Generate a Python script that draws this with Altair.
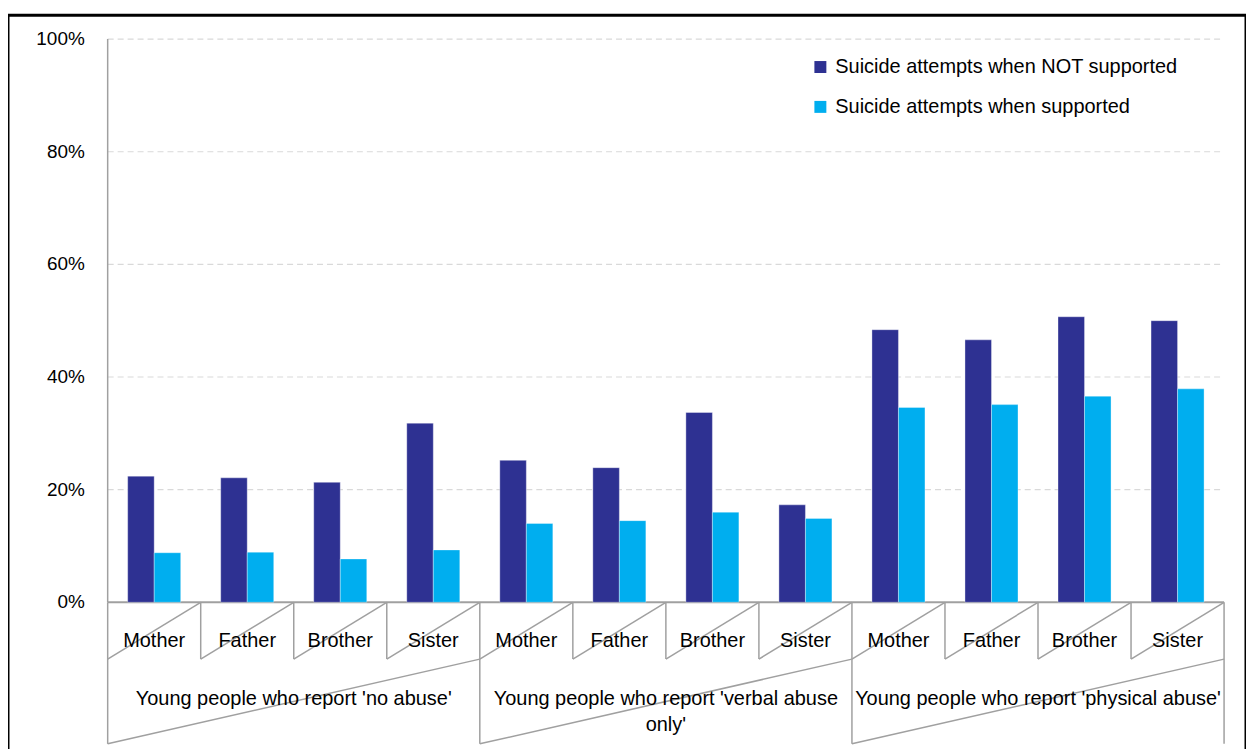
import altair as alt
import pandas as pd

# ---- data ----
relations = ["Mother", "Father", "Brother", "Sister"]
groups = ["Young people who report 'no abuse'",
          "Young people who report 'verbal abuse\nonly'",
          "Young people who report 'physical abuse'"]
series = ["Suicide attempts when NOT supported", "Suicide attempts when supported"]
not_supported = [0.224, 0.221, 0.213, 0.318, 0.252, 0.239, 0.337, 0.173, 0.484, 0.466, 0.507, 0.500]
supported = [0.088, 0.089, 0.077, 0.093, 0.140, 0.145, 0.160, 0.149, 0.346, 0.351, 0.366, 0.379]
y_ticks = [0.0, 0.2, 0.4, 0.6, 0.8, 1.0]
colors = ["#2E3192", "#00AEEF"]

# ---- layout (pixels) ----
W, H = 1242, 745          # chart area = framed region
LEFT, RIGHT = 100, 1220   # plot x-extent inside frame
TOP100, ZERO = 24, 589    # y pixel of 100% and 0%
n_cat = len(relations) * len(groups)
unit = (RIGHT - LEFT) / n_cat
yunit = ZERO - TOP100
x_dom = [-LEFT / unit, n_cat + (W - RIGHT) / unit]
y_dom = [-(H - ZERO) / yunit, 1 + TOP100 / yunit]

def ypx(page_y):
    return (603 - page_y) / yunit

CAT_LABEL_Y = ypx(642)
CAT_BOTTOM = ypx(660)
GROUP_LABEL_Y = ypx(690)
GROUP_BOTTOM = ypx(745)
BAR_W = 0.285

xs = alt.Scale(domain=x_dom, nice=False, zero=False)
ys = alt.Scale(domain=y_dom, nice=False, zero=False)
FONT = "Liberation Sans"
GREY = "#A0A0A0"

# ---- tables ----
rows = []
for i in range(n_cat):
    for s, vals, off in [(series[0], not_supported, -BAR_W), (series[1], supported, 0.0)]:
        x0 = i + 0.5 + off
        rows.append({"series": s, "value": vals[i], "x0": x0, "x1": x0 + BAR_W, "zero": 0.0})
bars_df = pd.DataFrame(rows)

cat_df = pd.DataFrame({"label": [relations[i % 4] for i in range(n_cat)],
                       "xc": [i + 0.5 for i in range(n_cat)],
                       "y": [CAT_LABEL_Y] * n_cat})
grp_df = pd.DataFrame({"label": groups,
                       "xc": [4 * g + 2 for g in range(len(groups))],
                       "y": [GROUP_LABEL_Y] * len(groups)})

lines = []
for j in range(n_cat + 1):
    yb = GROUP_BOTTOM if j % 4 == 0 else CAT_BOTTOM
    lines.append({"x": j, "x2": j, "y": 0.0, "y2": yb})
for i in range(n_cat):
    lines.append({"x": i + 1, "x2": i, "y": 0.0, "y2": CAT_BOTTOM})
for g in range(len(groups)):
    lines.append({"x": 4 * g + 4, "x2": 4 * g, "y": CAT_BOTTOM, "y2": GROUP_BOTTOM})
lines_df = pd.DataFrame(lines)

grid_df = pd.DataFrame({"y": y_ticks[1:], "x": [0] * 5, "x2": [n_cat] * 5})
tick_df = pd.DataFrame({"y": y_ticks, "x": [0] * len(y_ticks),
                        "label": [f"{int(round(v * 100))}%" for v in y_ticks]})
base_df = pd.DataFrame({"x": [0], "x2": [n_cat], "y": [0.0]})
yaxis_df = pd.DataFrame({"x": [0], "y": [0.0], "y2": [1.0]})

# ---- layers ----
grid = alt.Chart(grid_df).mark_rule(color="#D9D9D9", strokeDash=[6, 4], strokeWidth=1.2).encode(
    x=alt.X("x:Q", scale=xs, axis=None), x2="x2:Q", y=alt.Y("y:Q", scale=ys, axis=None))

bars = alt.Chart(bars_df).mark_rect(stroke="#ffffff", strokeOpacity=0.35, strokeWidth=1).encode(
    x=alt.X("x0:Q", scale=xs, axis=None), x2="x1:Q",
    y=alt.Y("value:Q", scale=ys, axis=None), y2="zero:Q",
    color=alt.Color("series:N", scale=alt.Scale(domain=series, range=colors),
                    legend=alt.Legend(title=None, orient="none", legendX=805, legendY=42,
                                      symbolType="square", symbolSize=144, symbolStrokeWidth=0,
                                      symbolOpacity=1, labelFont=FONT, labelFontSize=20,
                                      labelColor="#000000", labelOffset=5, rowPadding=20,
                                      padding=0, labelLimit=500)))

base = alt.Chart(base_df).mark_rule(color=GREY, strokeWidth=2).encode(
    x=alt.X("x:Q", scale=xs, axis=None), x2="x2:Q", y=alt.Y("y:Q", scale=ys, axis=None))

yaxis = alt.Chart(yaxis_df).mark_rule(color=GREY, strokeWidth=1.5).encode(
    x=alt.X("x:Q", scale=xs, axis=None), y=alt.Y("y:Q", scale=ys, axis=None), y2="y2:Q")

seps = alt.Chart(lines_df).mark_rule(color=GREY, strokeWidth=1.5).encode(
    x=alt.X("x:Q", scale=xs, axis=None), x2="x2:Q",
    y=alt.Y("y:Q", scale=ys, axis=None), y2="y2:Q")

ticks = alt.Chart(tick_df).mark_text(align="right", baseline="middle", dx=-23,
                                     font=FONT, fontSize=19, color="#000000").encode(
    x=alt.X("x:Q", scale=xs, axis=None), y=alt.Y("y:Q", scale=ys, axis=None), text="label:N")

cats = alt.Chart(cat_df).mark_text(align="center", baseline="middle",
                                   font=FONT, fontSize=20, color="#000000").encode(
    x=alt.X("xc:Q", scale=xs, axis=None), y=alt.Y("y:Q", scale=ys, axis=None), text="label:N")

grps = alt.Chart(grp_df).mark_text(align="center", baseline="top", lineBreak="\n", lineHeight=26,
                                   font=FONT, fontSize=20, color="#000000").encode(
    x=alt.X("xc:Q", scale=xs, axis=None), y=alt.Y("y:Q", scale=ys, axis=None), text="label:N")

chart = alt.layer(grid, base, bars, yaxis, seps, ticks, cats, grps).properties(
    width=W, height=H,
    autosize=alt.AutoSizeParams(type="none"),
    padding={"left": 0, "top": 6, "right": 0, "bottom": 0},
).configure(
    background="#ffffff",
    view=alt.ViewConfig(stroke="#000000", strokeWidth=3),
)

chart.save("out.html", embed_options={"renderer": "svg", "actions": False})
